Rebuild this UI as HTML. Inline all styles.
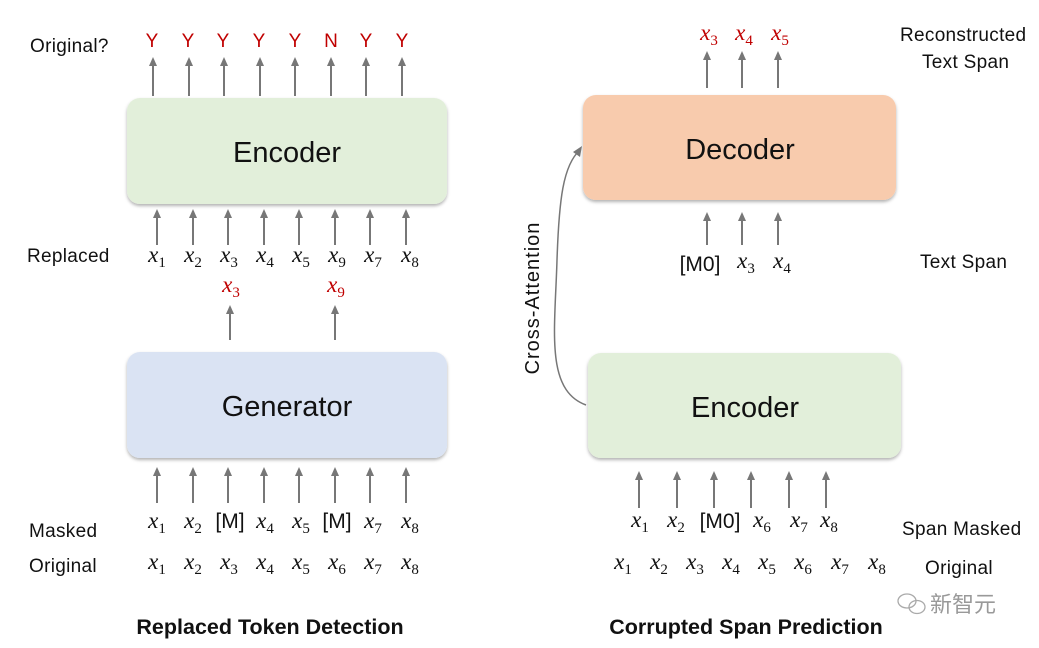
<!DOCTYPE html>
<html><head><meta charset="utf-8"><style>
html,body{margin:0;padding:0;background:#fff;}
svg{display:block;font-family:"Liberation Sans","Noto Sans CJK SC",sans-serif;}
.m{font-family:"Liberation Serif",serif;font-size:23px;}
.m .v{font-style:italic;}
.m .s{font-size:15px;}
.lb{font-size:19px;fill:#111;letter-spacing:0.3px;}
.bx{font-size:29px;fill:#111;}
</style></head><body>
<svg width="1039" height="648" viewBox="0 0 1039 648" xmlns="http://www.w3.org/2000/svg">
<defs>
<filter id="sh" x="-5%" y="-5%" width="110%" height="120%"><feDropShadow dx="0" dy="2" stdDeviation="1.5" flood-color="#000" flood-opacity="0.3"/></filter>
</defs>
<rect x="127" y="98" width="320" height="106" rx="13" fill="#e2efda" filter="url(#sh)"/>
<text x="287" y="162" text-anchor="middle" class="bx">Encoder</text>
<rect x="127" y="352" width="320" height="106" rx="13" fill="#dae3f3" filter="url(#sh)"/>
<text x="287" y="416" text-anchor="middle" class="bx">Generator</text>
<rect x="583" y="95" width="313" height="105" rx="13" fill="#f8cbad" filter="url(#sh)"/>
<text x="740" y="159" text-anchor="middle" class="bx">Decoder</text>
<rect x="588" y="353" width="313" height="105" rx="13" fill="#e2efda" filter="url(#sh)"/>
<text x="745" y="417" text-anchor="middle" class="bx">Encoder</text>

<g stroke="#777" stroke-width="2" fill="#777">
<path d="M153 96V64 M189 96V64 M224 96V64 M260 96V64 M295 96V64 M331 96V64 M366 96V64 M402 96V64"/>
<path d="M157 245V216 M193 245V216 M228 245V216 M264 245V216 M299 245V216 M335 245V216 M370 245V216 M406 245V216"/>
<path d="M230 340V312 M335 340V312"/>
<path d="M157 503V474 M193 503V474 M228 503V474 M264 503V474 M299 503V474 M335 503V474 M370 503V474 M406 503V474"/>
<path d="M707 88V58 M742 88V58 M778 88V58"/>
<path d="M707 245V219 M742 245V219 M778 245V219"/>
<path d="M639 508V478 M677 508V478 M714 508V478 M751 508V478 M789 508V478 M826 508V478"/>
</g>
<g fill="#777">
<polygon points="153,57 149,66 157,66"/><polygon points="189,57 185,66 193,66"/><polygon points="224,57 220,66 228,66"/><polygon points="260,57 256,66 264,66"/><polygon points="295,57 291,66 299,66"/><polygon points="331,57 327,66 335,66"/><polygon points="366,57 362,66 370,66"/><polygon points="402,57 398,66 406,66"/>
<polygon points="157,209 153,218 161,218"/><polygon points="193,209 189,218 197,218"/><polygon points="228,209 224,218 232,218"/><polygon points="264,209 260,218 268,218"/><polygon points="299,209 295,218 303,218"/><polygon points="335,209 331,218 339,218"/><polygon points="370,209 366,218 374,218"/><polygon points="406,209 402,218 410,218"/>
<polygon points="230,305 226,314 234,314"/><polygon points="335,305 331,314 339,314"/>
<polygon points="157,467 153,476 161,476"/><polygon points="193,467 189,476 197,476"/><polygon points="228,467 224,476 232,476"/><polygon points="264,467 260,476 268,476"/><polygon points="299,467 295,476 303,476"/><polygon points="335,467 331,476 339,476"/><polygon points="370,467 366,476 374,476"/><polygon points="406,467 402,476 410,476"/>
<polygon points="707,51 703,60 711,60"/><polygon points="742,51 738,60 746,60"/><polygon points="778,51 774,60 782,60"/>
<polygon points="707,212 703,221 711,221"/><polygon points="742,212 738,221 746,221"/><polygon points="778,212 774,221 782,221"/>
<polygon points="639,471 635,480 643,480"/><polygon points="677,471 673,480 681,480"/><polygon points="714,471 710,480 718,480"/><polygon points="751,471 747,480 755,480"/><polygon points="789,471 785,480 793,480"/><polygon points="826,471 822,480 830,480"/>
</g>
<path d="M586 405 C545 390 555 330 557 260 C559 200 563 165 580 150" fill="none" stroke="#777" stroke-width="1.5"/>
<polygon points="582,146 573,152 580,157" fill="#777"/>
<text transform="translate(539,298) rotate(-90)" text-anchor="middle" font-size="20" fill="#111" letter-spacing="1">Cross-Attention</text>

<text x="30" y="52" class="lb" font-size="20">Original?</text>
<g fill="#c00000" font-size="19" text-anchor="middle">
<text x="152" y="47">Y</text><text x="188" y="47">Y</text><text x="223" y="47">Y</text><text x="259" y="47">Y</text><text x="295" y="47">Y</text><text x="331" y="47">N</text><text x="366" y="47">Y</text><text x="402" y="47">Y</text>
</g>
<text x="27" y="262" class="lb">Replaced</text>
<text x="29" y="537" class="lb">Masked</text>
<text x="29" y="572" class="lb">Original</text>
<text x="900" y="41" class="lb">Reconstructed</text>
<text x="922" y="68" class="lb">Text Span</text>
<text x="920" y="268" class="lb">Text Span</text>
<text x="902" y="535" class="lb">Span Masked</text>
<text x="925" y="574" class="lb">Original</text>
<text x="270" y="634" text-anchor="middle" font-size="21.5" font-weight="bold" fill="#111">Replaced Token Detection</text>
<text x="746" y="634" text-anchor="middle" font-size="21.5" font-weight="bold" fill="#111">Corrupted Span Prediction</text>
<text x="930" y="612" font-size="22" fill="#999" font-family="'Noto Sans CJK SC',sans-serif">新智元</text>
<g fill="none" stroke="#aaa" stroke-width="1.3"><ellipse cx="907" cy="601" rx="9" ry="7"/><ellipse cx="917" cy="607" rx="8" ry="6.5"/></g>

<g class="m" fill="#111" text-anchor="middle">
<text x="157" y="262"><tspan class="v">x</tspan><tspan class="s" dy="5">1</tspan></text>
<text x="193" y="262"><tspan class="v">x</tspan><tspan class="s" dy="5">2</tspan></text>
<text x="229" y="262"><tspan class="v">x</tspan><tspan class="s" dy="5">3</tspan></text>
<text x="265" y="262"><tspan class="v">x</tspan><tspan class="s" dy="5">4</tspan></text>
<text x="301" y="262"><tspan class="v">x</tspan><tspan class="s" dy="5">5</tspan></text>
<text x="337" y="262"><tspan class="v">x</tspan><tspan class="s" dy="5">9</tspan></text>
<text x="373" y="262"><tspan class="v">x</tspan><tspan class="s" dy="5">7</tspan></text>
<text x="410" y="262"><tspan class="v">x</tspan><tspan class="s" dy="5">8</tspan></text>

<text x="157" y="528"><tspan class="v">x</tspan><tspan class="s" dy="5">1</tspan></text>
<text x="193" y="528"><tspan class="v">x</tspan><tspan class="s" dy="5">2</tspan></text>
<text x="230" y="528" font-family="Liberation Sans" font-size="21">[M]</text>
<text x="265" y="528"><tspan class="v">x</tspan><tspan class="s" dy="5">4</tspan></text>
<text x="301" y="528"><tspan class="v">x</tspan><tspan class="s" dy="5">5</tspan></text>
<text x="337" y="528" font-family="Liberation Sans" font-size="21">[M]</text>
<text x="373" y="528"><tspan class="v">x</tspan><tspan class="s" dy="5">7</tspan></text>
<text x="410" y="528"><tspan class="v">x</tspan><tspan class="s" dy="5">8</tspan></text>

<text x="157" y="569"><tspan class="v">x</tspan><tspan class="s" dy="5">1</tspan></text>
<text x="193" y="569"><tspan class="v">x</tspan><tspan class="s" dy="5">2</tspan></text>
<text x="229" y="569"><tspan class="v">x</tspan><tspan class="s" dy="5">3</tspan></text>
<text x="265" y="569"><tspan class="v">x</tspan><tspan class="s" dy="5">4</tspan></text>
<text x="301" y="569"><tspan class="v">x</tspan><tspan class="s" dy="5">5</tspan></text>
<text x="337" y="569"><tspan class="v">x</tspan><tspan class="s" dy="5">6</tspan></text>
<text x="373" y="569"><tspan class="v">x</tspan><tspan class="s" dy="5">7</tspan></text>
<text x="410" y="569"><tspan class="v">x</tspan><tspan class="s" dy="5">8</tspan></text>

<text x="700" y="271" font-family="Liberation Sans" font-size="21">[M0]</text>
<text x="746" y="268"><tspan class="v">x</tspan><tspan class="s" dy="5">3</tspan></text>
<text x="782" y="268"><tspan class="v">x</tspan><tspan class="s" dy="5">4</tspan></text>

<text x="640" y="527"><tspan class="v">x</tspan><tspan class="s" dy="5">1</tspan></text>
<text x="676" y="527"><tspan class="v">x</tspan><tspan class="s" dy="5">2</tspan></text>
<text x="720" y="528" font-family="Liberation Sans" font-size="21">[M0]</text>
<text x="762" y="527"><tspan class="v">x</tspan><tspan class="s" dy="5">6</tspan></text>
<text x="799" y="527"><tspan class="v">x</tspan><tspan class="s" dy="5">7</tspan></text>
<text x="829" y="527"><tspan class="v">x</tspan><tspan class="s" dy="5">8</tspan></text>

<text x="623" y="569"><tspan class="v">x</tspan><tspan class="s" dy="5">1</tspan></text>
<text x="659" y="569"><tspan class="v">x</tspan><tspan class="s" dy="5">2</tspan></text>
<text x="695" y="569"><tspan class="v">x</tspan><tspan class="s" dy="5">3</tspan></text>
<text x="731" y="569"><tspan class="v">x</tspan><tspan class="s" dy="5">4</tspan></text>
<text x="767" y="569"><tspan class="v">x</tspan><tspan class="s" dy="5">5</tspan></text>
<text x="803" y="569"><tspan class="v">x</tspan><tspan class="s" dy="5">6</tspan></text>
<text x="840" y="569"><tspan class="v">x</tspan><tspan class="s" dy="5">7</tspan></text>
<text x="877" y="569"><tspan class="v">x</tspan><tspan class="s" dy="5">8</tspan></text>
</g>
<g class="m" fill="#c00000" text-anchor="middle">
<text x="231" y="292"><tspan class="v">x</tspan><tspan class="s" dy="5">3</tspan></text>
<text x="336" y="292"><tspan class="v">x</tspan><tspan class="s" dy="5">9</tspan></text>
<text x="709" y="40"><tspan class="v">x</tspan><tspan class="s" dy="5">3</tspan></text>
<text x="744" y="40"><tspan class="v">x</tspan><tspan class="s" dy="5">4</tspan></text>
<text x="780" y="40"><tspan class="v">x</tspan><tspan class="s" dy="5">5</tspan></text>
</g>
</svg>
</body></html>
